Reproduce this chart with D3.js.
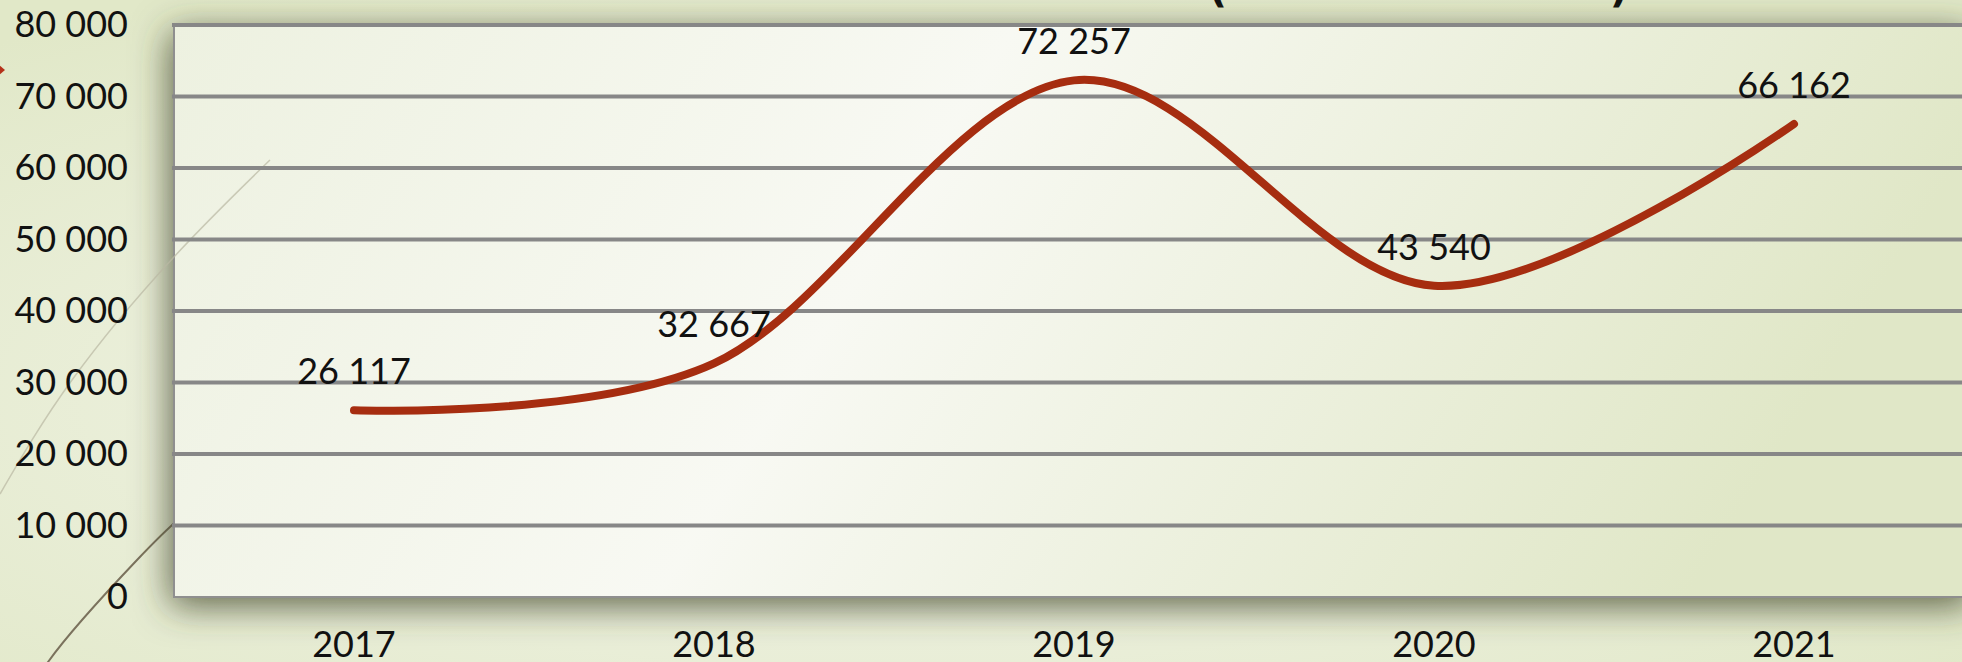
<!DOCTYPE html>
<html>
<head>
<meta charset="utf-8">
<script src="https://cdn.jsdelivr.net/npm/d3@7"></script>
<style>
  html, body { margin: 0; padding: 0; background: #e8edd6; overflow: hidden; }
  svg { display: block; font-family: Lato, "Noto Sans", sans-serif; }
</style>
</head>
<body>
<div id="chart"></div>
<script>
const years = ["2017", "2018", "2019", "2020", "2021"];
const values = [26117, 32667, 72257, 43540, 66162];
const yTicks = [0, 10000, 20000, 30000, 40000, 50000, 60000, 70000, 80000];

const width = 1962;
const height = 662;
const plot = { left: 174, right: 1974, top: 25, bottom: 597 };

const locale = d3.formatLocale({ decimal: ",", thousands: " ", grouping: [3], currency: ["", ""] });
const fmt = locale.format(",d");

const svg = d3.select("#chart")
  .append("svg")
  .attr("width", width)
  .attr("height", height)
  .attr("viewBox", [0, 0, width, height]);

const defs = svg.append("defs");

// slide background
const bg = defs.append("radialGradient")
  .attr("id", "bg")
  .attr("cx", "45%").attr("cy", "60%").attr("r", "70%");
bg.append("stop").attr("offset", "0%").attr("stop-color", "#f4f6ec");
bg.append("stop").attr("offset", "100%").attr("stop-color", "#e1e8c8");

// plot area fill
const pg = defs.append("linearGradient")
  .attr("id", "plotFill")
  .attr("x1", "0%").attr("x2", "100%").attr("y1", "0%").attr("y2", "20%");
pg.append("stop").attr("offset", "0%").attr("stop-color", "#edf1e0");
pg.append("stop").attr("offset", "45%").attr("stop-color", "#f8f9f3");
pg.append("stop").attr("offset", "100%").attr("stop-color", "#e0e7c7");

// soft shadow under the plot area
const sh = defs.append("filter")
  .attr("id", "shadow")
  .attr("x", "-10%").attr("y", "-20%")
  .attr("width", "120%").attr("height", "145%");
sh.append("feGaussianBlur").attr("in", "SourceAlpha").attr("stdDeviation", 18).attr("result", "blur");
sh.append("feOffset").attr("in", "blur").attr("dx", -3).attr("dy", 8).attr("result", "off");
sh.append("feFlood").attr("flood-color", "#3d4226").attr("flood-opacity", 0.8);
sh.append("feComposite").attr("in2", "off").attr("operator", "in").attr("result", "shadowCol");
const merge = sh.append("feMerge");
merge.append("feMergeNode").attr("in", "shadowCol");
merge.append("feMergeNode").attr("in", "SourceGraphic");

svg.append("rect")
  .attr("width", width)
  .attr("height", height)
  .attr("fill", "url(#bg)");

// decorative lines of the slide
const deco = d3.line().curve(d3.curveNatural);
svg.append("path")
  .attr("d", deco([[40, 700], [48, 662], [137, 560], [180, 518]]))
  .attr("fill", "none")
  .attr("stroke", "#7b725d")
  .attr("stroke-width", 2);

svg.append("path")
  .attr("d", "M-7,60 L5,70 L-7,80 Z")
  .attr("fill", "#b5321a");

// title (only the bottom of the brackets shows)
svg.append("g")
  .style("font-family", "DejaVu Sans, sans-serif")
  .style("font-weight", "bold")
  .style("font-size", "40px")
  .attr("fill", "#111")
  .selectAll("text")
  .data([{ t: "(", x: 1218 }, { t: ")", x: 1619 }])
  .join("text")
  .attr("x", d => d.x)
  .attr("y", 2)
  .attr("text-anchor", "middle")
  .text(d => d.t);

const x = d3.scaleBand()
  .domain(years)
  .range([plot.left, plot.right]);

const y = d3.scaleLinear()
  .domain([0, 80000])
  .range([plot.bottom, plot.top]);

const cx = d => x(d) + x.bandwidth() / 2;

// plot area
svg.append("rect")
  .attr("x", plot.left)
  .attr("y", plot.top)
  .attr("width", plot.right - plot.left)
  .attr("height", plot.bottom - plot.top)
  .attr("fill", "url(#plotFill)")
  .attr("stroke", "#8f8f8f")
  .attr("stroke-width", 2)
  .attr("filter", "url(#shadow)");

// light decorative line over the plot edge
svg.append("path")
  .attr("d", deco([[0, 494], [72, 380], [173, 258], [270, 160]]))
  .attr("fill", "none")
  .attr("stroke", "#b9b8a2")
  .attr("stroke-opacity", 0.7)
  .attr("stroke-width", 1.5);

// gridlines
svg.append("g")
  .selectAll("line")
  .data(yTicks.filter(d => d > 0))
  .join("line")
  .attr("x1", plot.left - 2)
  .attr("x2", plot.right)
  .attr("y1", d => y(d))
  .attr("y2", d => y(d))
  .attr("stroke", "#878787")
  .attr("stroke-width", 4);

// axes
svg.append("g")
  .attr("transform", `translate(${plot.left},0)`)
  .call(d3.axisLeft(y).tickValues(yTicks).tickSize(0).tickPadding(46).tickFormat(fmt))
  .call(g => g.select(".domain").remove())
  .call(g => g.selectAll("text")
    .attr("fill", "#111")
    .style("font-family", "Lato, sans-serif")
    .style("font-size", "36px"));

svg.append("g")
  .attr("transform", `translate(0,${plot.bottom})`)
  .call(d3.axisBottom(x).tickSize(0).tickPadding(34))
  .call(g => g.select(".domain").remove())
  .call(g => g.selectAll("text")
    .attr("fill", "#111")
    .style("font-family", "Lato, sans-serif")
    .style("font-size", "36px"));

// series
const pts = years.map((yr, i) => [cx(yr), y(values[i])]);

const line = d3.line().curve(d3.curveCardinal.tension(0));

svg.append("path")
  .attr("d", line(pts))
  .attr("fill", "none")
  .attr("stroke", "#a62d10")
  .attr("stroke-width", 8)
  .attr("stroke-linecap", "round")
  .attr("stroke-linejoin", "round");

// data labels
svg.append("g")
  .selectAll("text")
  .data(years)
  .join("text")
  .attr("x", d => cx(d))
  .attr("y", (d, i) => y(values[i]) - 26)
  .attr("text-anchor", "middle")
  .attr("fill", "#111")
  .style("font-family", "Lato, sans-serif")
  .style("font-size", "36px")
  .text((d, i) => fmt(values[i]));
</script>
</body>
</html>
